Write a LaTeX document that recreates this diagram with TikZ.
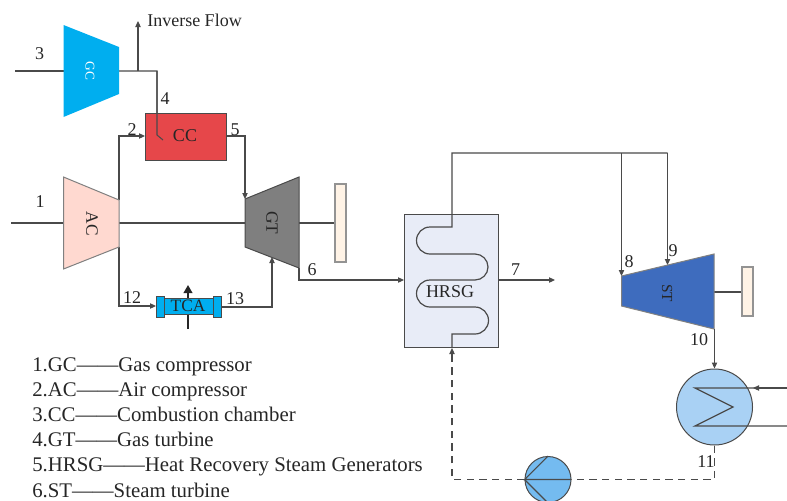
\documentclass[tikz,border=0pt]{standalone}
\usepackage{fontspec}
\setmainfont{Liberation Serif}
\usetikzlibrary{arrows.meta}
\definecolor{ln}{HTML}{4A4A4A}
\definecolor{tx}{HTML}{262626}
\definecolor{genfill}{HTML}{FFF3E6}
\tikzset{
  x=0.75pt,y=-0.75pt,
  pipe/.style={draw=ln,line width=0.8pt},
  flow/.style={pipe,-{Triangle[length=4.5pt,width=4pt]}},
  dashpipe/.style={draw=ln,line width=0.8pt,dash pattern=on 5.5pt off 4pt},
  shaft/.style={draw=ln,line width=1.5pt},
  body/.style={draw=ln,line width=0.75pt},
  gen/.style={draw=gray!85,line width=0.9pt,fill=genfill},
  lbl/.style={text=tx,inner sep=0pt,font=\fontsize{13.5}{15}\selectfont},
  leg/.style={text=tx,inner sep=0pt,anchor=base west,font=\fontsize{15.6}{18}\selectfont},
}
\begin{document}
\begin{tikzpicture}
\useasboundingbox (0,0) rectangle (787,500);
\clip (0,0) rectangle (787,500);
% key points
\coordinate (in3) at (15,71); \coordinate (gcIn) at (63.5,71); \coordinate (gcOut) at (119,71);
\coordinate (tee) at (138,71); \coordinate (inv) at (138,21); \coordinate (bend4) at (157,71);
\coordinate (tip4) at (157,135); \coordinate (tick4) at (163,140);
\coordinate (in1) at (11,223); \coordinate (acIn) at (63.5,223); \coordinate (acOut) at (119,223);
\coordinate (acTop) at (119,200); \coordinate (acBot) at (119,247);
\coordinate (b2) at (119,136); \coordinate (b12) at (119,306);
\coordinate (ccIn) at (145,136); \coordinate (ccOut) at (226,136); \coordinate (b5) at (245,136);
\coordinate (gtTop) at (245,199); \coordinate (gtIn) at (245,223); \coordinate (gtOut) at (299,223);
\coordinate (gtEx) at (299,268); \coordinate (b6) at (299,280); \coordinate (hrIn) at (404,280);
\coordinate (tcaIn) at (156,306); \coordinate (tcaOut) at (221,307); \coordinate (b13) at (272,307); \coordinate (gtCool) at (272,257);
\coordinate (tcaLo) at (188,329); \coordinate (tcaHi) at (188,285);
\coordinate (hrOut) at (498,280); \coordinate (out7) at (555,280);
\coordinate (top0) at (452,153); \coordinate (top8) at (621.5,153); \coordinate (top9) at (667.5,153);
\coordinate (st8) at (621.5,276); \coordinate (st9) at (667.5,265);
\coordinate (stShaft) at (714,291.5); \coordinate (stEx) at (714.5,329);
\coordinate (cwIn) at (787,388); \coordinate (cwOut) at (787,426);
\coordinate (c1) at (695,388); \coordinate (c2) at (733,407); \coordinate (c3) at (695,426);
\coordinate (dashCorner) at (714.5,479.5); \coordinate (dashHr) at (452,479.5); \coordinate (hrBot) at (452,348);
% generators
\node[gen,minimum width=8.25pt,minimum height=58.5pt,inner sep=0pt] (gen1) at (340.5,223) {};
\node[gen,minimum width=8.25pt,minimum height=36.75pt,inner sep=0pt] (gen2) at (747.5,291.5) {};
% connectors below bodies
\draw[pipe] (in3) -- (gcIn);
\draw[pipe] (gcOut) -- (bend4) -- (tip4) -- (tick4);
\draw[flow] (tee) -- (inv);
\draw[pipe] (in1) -- (acIn);
\draw[flow] (acTop) -- (b2) -- (ccIn);
\draw[flow] (acBot) -- (b12) -- (tcaIn);
\draw[shaft] (acOut) -- (gtIn);
\draw[shaft] (gtOut) -- (gen1.west);
\draw[shaft] (stShaft) -- (gen2.west);
\draw[flow] (gtEx) -- (b6) -- (hrIn);
\draw[flow] (hrOut) -- (out7);
\draw[flow] (tcaOut) -- (b13) -- (gtCool);
\draw[flow] (top8) -- (st8);
\draw[flow] (top9) -- (st9);
% compressors and turbines
\path[fill={rgb,255:red,0;green,174;blue,239}] (63.5,25) -- (119,47) -- (119,94) -- (63.5,117) -- cycle;
\draw[body,fill={rgb,255:red,255;green,217;blue,208},draw=gray] (63.5,177) -- (119,200) -- (119,247) -- (63.5,269) -- cycle;
\draw[body,fill={rgb,255:red,127;green,127;blue,127}] (245,199) -- (299,177) -- (299,268) -- (245,247) -- cycle;
\draw[body,fill={rgb,255:red,62;green,108;blue,190},draw=gray] (621.5,276) -- (714,254) -- (714,329) -- (621.5,306) -- cycle;
\node[lbl,text=white,rotate=-90,font=\fontsize{10}{12}\selectfont] (gcT) at (90,71) {GC};
\node[lbl,rotate=-90,font=\fontsize{13}{15}\selectfont] (acT) at (92,224) {AC};
\node[lbl,rotate=-90,font=\fontsize{13}{15}\selectfont] (gtT) at (272,223) {GT};
\node[lbl,rotate=-90,font=\fontsize{11.5}{14}\selectfont] (stT) at (667,293) {ST};
% combustion chamber
\node[draw=ln,line width=0.75pt,fill={rgb,255:red,230;green,71;blue,74},minimum width=60.75pt,minimum height=35.25pt,inner sep=0pt,anchor=north west] (cc) at (145,113) {};
\draw[pipe] (bend4) -- (tip4) -- (tick4);
\draw[flow] (ccOut) -- (b5) -- (gtTop);
\node[lbl] (ccT) at (185,136) {CC};
% TCA
\draw[line width=1.2pt,draw=black!85,-{Triangle[length=6pt,width=6.5pt]}] (tcaLo) -- (tcaHi);
\node[draw=ln,line width=0.75pt,fill={rgb,255:red,0;green,174;blue,239},minimum width=37pt,minimum height=12pt,inner sep=0pt] (tca) at (188.5,306) {};
\node[draw=ln,line width=0.75pt,fill={rgb,255:red,0;green,174;blue,239},minimum width=6pt,minimum height=15.75pt,inner sep=0pt] (capL) at (160,306.5) {};
\node[draw=ln,line width=0.75pt,fill={rgb,255:red,0;green,174;blue,239},minimum width=6pt,minimum height=15.75pt,inner sep=0pt] (capR) at (217,306.5) {};
\node[lbl,font=\fontsize{13}{15}\selectfont] (tcaT) at (188,306) {TCA};
% HRSG
\node[draw=ln,line width=0.9pt,fill={rgb,255:red,232;green,236;blue,247},minimum width=70.5pt,minimum height=99.75pt,inner sep=0pt,anchor=north west] (hrsg) at (404,214) {};
\draw[pipe,line width=0.9pt] (top9) -- (top0) -- (452,227) -- (430,227)
  arc[start angle=-90,end angle=-270,radius=13.5] -- (475,254)
  arc[start angle=-90,end angle=90,radius=13] -- (430,280)
  arc[start angle=-90,end angle=-270,radius=13.5] -- (475,307)
  arc[start angle=-90,end angle=90,radius=13.5] -- (452,334) -- (hrBot);
\node[lbl] (hrT) at (450,292) {HRSG};
% condenser
\node[circle,draw=ln,line width=0.75pt,fill={rgb,255:red,169;green,209;blue,244},minimum size=57pt,inner sep=0pt] (cond) at (714.5,407) {};
\draw[flow] (stEx) -- (cond.north);
\draw[pipe,line width=0.9pt] (cwOut) -- (c3) -- (c2) -- (c1) -- (cwIn);
\draw[flow] (cwIn) -- (753,388);
% pump and return
\node[circle,draw=ln,line width=0.75pt,fill={rgb,255:red,116;green,187;blue,240},minimum size=34.5pt,inner sep=0pt] (pump) at (548,479.5) {};
\draw[dashpipe] (cond.south) -- (dashCorner) -- (pump.east);
\draw[dashpipe] (pump.west) -- (dashHr) -- (452,354);
\draw[flow] (452,354) -- (hrBot);
\draw[pipe] (pump.east) -- (pump.west) -- (pump.north);
\draw[pipe] (pump.west) -- (pump.south);
% numbers
\node[lbl] (n3) at (39.5,54) {3};
\node[lbl] (n4) at (165,99) {4};
\node[lbl] (n2) at (132,130) {2};
\node[lbl] (n5) at (235,130) {5};
\node[lbl] (n1) at (40,202) {1};
\node[lbl] (n6) at (312,270) {6};
\node[lbl] (n12) at (132,298) {12};
\node[lbl] (n13) at (235,299) {13};
\node[lbl] (n7) at (515.5,270) {7};
\node[lbl] (n8) at (629,262) {8};
\node[lbl] (n9) at (673,251) {9};
\node[lbl] (n10) at (699,340) {10};
\node[lbl] (n11) at (706,462) {11};
\node[lbl,anchor=west] (invT) at (147,20) {Inverse Flow};
% legend
\node[leg] (l1) at (32,371) {1.GC——Gas compressor};
\node[leg] (l2) at (32,396) {2.AC——Air compressor};
\node[leg] (l3) at (32,421) {3.CC——Combustion chamber};
\node[leg] (l4) at (32,446) {4.GT——Gas turbine};
\node[leg] (l5) at (32,471) {5.HRSG——Heat Recovery Steam Generators};
\node[leg] (l6) at (32,497) {6.ST——Steam turbine};
\end{tikzpicture}
\end{document}
